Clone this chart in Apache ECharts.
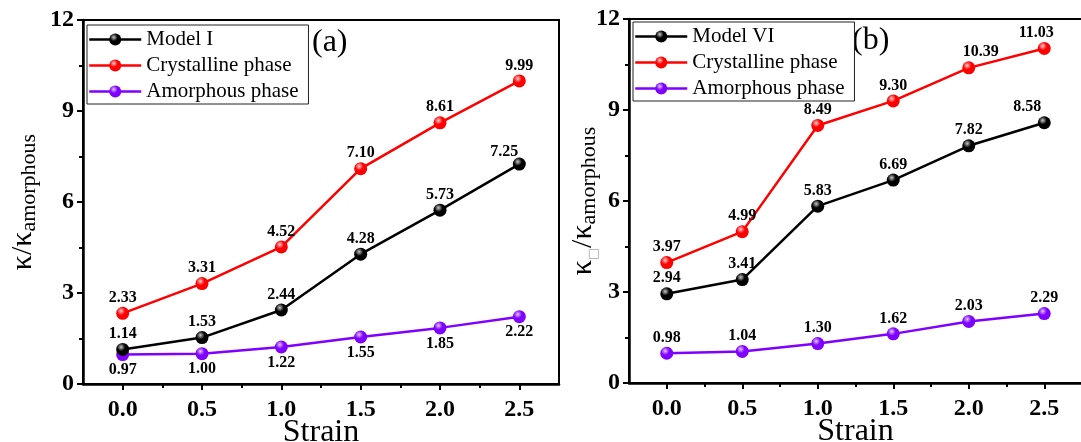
<!DOCTYPE html>
<html>
<head>
<meta charset="utf-8">
<script src="https://cdn.jsdelivr.net/npm/echarts@6/dist/echarts.min.js"></script>
<style>
  html, body { margin: 0; padding: 0; background: #fff; }
  #chart { width: 1081px; height: 442px; }
</style>
</head>
<body>
<div id="chart"></div>
<script>
// Strain values shared by both panels
const strain = [0.0, 0.5, 1.0, 1.5, 2.0, 2.5];

// Panel (a): normalised thermal conductivity
const modelI      = [1.14, 1.53, 2.44, 4.28, 5.73, 7.25];
const crystalA    = [2.33, 3.31, 4.52, 7.10, 8.61, 9.99];
const amorphousA  = [0.97, 1.00, 1.22, 1.55, 1.85, 2.22];

// Panel (b)
const modelVI     = [2.94, 3.41, 5.83, 6.69, 7.82, 8.58];
const crystalB    = [3.97, 4.99, 8.49, 9.30, 10.39, 11.03];
const amorphousB  = [0.98, 1.04, 1.30, 1.62, 2.03, 2.29];

// Axis ticks
const xMajorTicks = [0.0, 0.5, 1.0, 1.5, 2.0, 2.5];
const xMinorTicks = [0.25, 0.75, 1.25, 1.75, 2.25];
const yTickLabels = ['0', '3', '6', '9', '12'];

const SERIF = '"Liberation Serif", "Times New Roman", serif';

const COLORS = { black: '#000000', red: '#ff0000', purple: '#8000ff' };

// Shaded "ball" marker fill
function ball(base, light) {
  return {
    type: 'radial', x: 0.38, y: 0.32, r: 0.7,
    colorStops: [
      { offset: 0, color: light },
      { offset: 0.45, color: base },
      { offset: 1, color: base }
    ]
  };
}
const fills = {
  black: ball('#000000', '#c8c8c8'),
  red: ball('#ff0000', '#ffd0d0'),
  purple: ball('#8000ff', '#e2c8ff')
};

// Hand placement of a few value labels near the right edge
const labelNudge = {
  a_model: { 5: [-15, 3] },
  b_model: { 5: [-17, 0] },
  b_cryst: { 4: [12, 0], 5: [-8, 0] }
};

function makeSeries(name, values, colorKey, gridIdx, labelPos, nudgeKey) {
  const nudge = labelNudge[nudgeKey] || {};
  return {
    name: name,
    type: 'line',
    xAxisIndex: gridIdx * 2,
    yAxisIndex: gridIdx,
    data: strain.map((s, i) => {
      const item = { value: [s, values[i]] };
      if (nudge[i]) item.label = { offset: nudge[i] };
      return item;
    }),
    symbol: 'circle',
    symbolSize: 13,
    lineStyle: { color: COLORS[colorKey], width: 2.5 },
    itemStyle: { color: fills[colorKey], borderWidth: 0 },
    label: {
      show: true,
      position: labelPos,
      distance: 1,
      formatter: p => p.value[1].toFixed(2),
      fontFamily: SERIF,
      fontWeight: 'bold',
      fontSize: 16,
      color: '#000'
    },
    z: colorKey === 'purple' ? 3 : (colorKey === 'red' ? 4 : 5)
  };
}

function yAxisFor(gridIdx, nameRich, nameText, gap) {
  return {
    type: 'value',
    gridIndex: gridIdx,
    min: 0, max: 12, interval: 3,
    axisLine: { show: true, onZero: false, lineStyle: { color: '#000', width: 2.5 } },
    axisTick: { show: true, inside: false, length: 6, lineStyle: { color: '#000', width: 2 } },
    minorTick: { show: true, splitNumber: 2, length: 4, lineStyle: { color: '#000', width: 2 } },
    splitLine: { show: false },
    axisLabel: {
      margin: 9,
      fontFamily: SERIF, fontWeight: 'bold', fontSize: 24, color: '#000',
      formatter: v => yTickLabels[Math.round(v / 3)]
    },
    name: nameText,
    nameLocation: 'middle',
    nameRotate: 90,
    nameGap: gap,
    nameMoveOverlap: false,
    nameTextStyle: { rich: nameRich }
  };
}

function xAxesFor(gridIdx) {
  return [
    {
      type: 'value',
      gridIndex: gridIdx,
      min: -0.25, max: 2.75,
      axisLine: { show: true, onZero: false, lineStyle: { color: '#000', width: 2.5 } },
      axisTick: { show: true, customValues: xMajorTicks, length: 6, lineStyle: { color: '#000', width: 2 } },
      splitLine: { show: false },
      axisLabel: {
        customValues: xMajorTicks,
        margin: 14,
        fontFamily: SERIF, fontWeight: 'bold', fontSize: 24, color: '#000',
        formatter: v => v.toFixed(1)
      },
      name: 'Strain',
      nameLocation: 'middle',
      nameGap: 33,
      nameMoveOverlap: false,
      nameTextStyle: { fontFamily: SERIF, fontSize: 32, color: '#000' }
    },
    {
      type: 'value',
      gridIndex: gridIdx,
      position: 'bottom',
      min: -0.25, max: 2.75,
      axisLine: { show: false, onZero: false },
      axisTick: { show: true, customValues: xMinorTicks, length: 4, lineStyle: { color: '#000', width: 2 } },
      axisLabel: { show: false },
      splitLine: { show: false }
    }
  ];
}

const richA = {
  k: { fontFamily: SERIF, fontSize: 30, lineHeight: 34, color: '#000' },
  s: { fontFamily: SERIF, fontSize: 22, lineHeight: 14, verticalAlign: 'bottom', color: '#000' }
};
const richB = {
  k: { fontFamily: SERIF, fontSize: 30, lineHeight: 34, color: '#000' },
  box: { fontFamily: '"DejaVu Sans", sans-serif', fontSize: 13, lineHeight: 10, verticalAlign: 'bottom', color: '#a8a8a8' },
  s: { fontFamily: SERIF, fontSize: 22, lineHeight: 14, verticalAlign: 'bottom', color: '#000' }
};

function legendFor(left, top, names) {
  return {
    orient: 'vertical',
    left: left, top: top,
    data: names,
    itemWidth: 52,
    itemHeight: 15,
    itemGap: 5,
    padding: [4, 10, 2, 1],
    borderColor: '#222',
    borderWidth: 1,
    backgroundColor: '#fff',
    lineStyle: { width: 2.5 },
    textStyle: { fontFamily: SERIF, fontSize: 21, lineHeight: 20, color: '#000' },
    selectedMode: false
  };
}

const option = {
  animation: false,
  backgroundColor: '#fff',
  grid: [
    { left: 83, right: 522, top: 20, bottom: 58, outerBoundsMode: 'none', containLabel: false, show: true, borderColor: '#000', borderWidth: 2, backgroundColor: 'transparent' },
    { left: 629, right: -1, top: 19, bottom: 59, outerBoundsMode: 'none', containLabel: false, show: true, borderColor: '#000', borderWidth: 2, backgroundColor: 'transparent' }
  ],
  xAxis: [...xAxesFor(0), ...xAxesFor(1)],
  yAxis: [
    yAxisFor(0, richA, '{k|κ/κ}{s|amorphous}', 43),
    yAxisFor(1, richB, '{k|κ}{box|□}{k|/κ}{s|amorphous}', 29)
  ],
  legend: [
    legendFor(87, 25, ['Model I', 'Crystalline phase', 'Amorphous phase']),
    legendFor(633, 22, ['Model VI', 'Crystalline phase', 'Amorphous phase'])
  ],
  series: [
    makeSeries('Model I', modelI, 'black', 0, 'top', 'a_model'),
    makeSeries('Crystalline phase', crystalA, 'red', 0, 'top', 'a_cryst'),
    makeSeries('Amorphous phase', amorphousA, 'purple', 0, 'bottom', 'a_amor'),
    makeSeries('Model VI', modelVI, 'black', 1, 'top', 'b_model'),
    makeSeries('Crystalline phase', crystalB, 'red', 1, 'top', 'b_cryst'),
    makeSeries('Amorphous phase', amorphousB, 'purple', 1, 'top', 'b_amor')
  ],
  graphic: [
    { type: 'text', left: 312, top: 27, style: { text: '(a)', font: '32px ' + SERIF, fill: '#000' } },
    { type: 'text', left: 852, top: 25, style: { text: '(b)', font: '32px ' + SERIF, fill: '#000' } }
  ]
};

const chart = echarts.init(document.getElementById('chart'), null, { renderer: 'canvas' });
chart.setOption(option);
</script>
</body>
</html>
